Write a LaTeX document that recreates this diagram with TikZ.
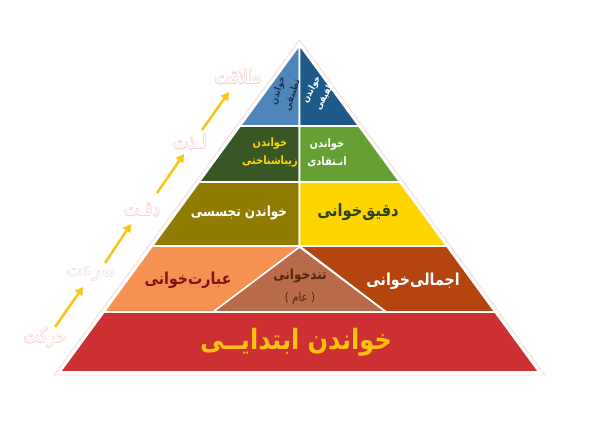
\documentclass[tikz,border=0pt]{standalone}
\usepackage{fontspec}
\usepackage[copies]{contour}
\usetikzlibrary{arrows.meta}
\TeXXeTstate=1
\newfontfamily\arabicfont[Script=Arabic,FakeStretch=0.86]{DejaVu Sans}
\definecolor{bluel}{HTML}{4F86BA}
\definecolor{blued}{HTML}{1D5A8A}
\definecolor{greend}{HTML}{385724}
\definecolor{greenl}{HTML}{65A035}
\definecolor{oliveb}{HTML}{917B03}
\definecolor{yel}{HTML}{FFD500}
\definecolor{orl}{HTML}{F79152}
\definecolor{brm}{HTML}{B96A4B}
\definecolor{rust}{HTML}{B5450F}
\definecolor{redb}{HTML}{CC3033}
\definecolor{gold}{HTML}{F8C61A}
\definecolor{pinkl}{HTML}{F5D2D2}
\definecolor{navyt}{HTML}{1B3556}
\definecolor{dgreent}{HTML}{2C4419}
\definecolor{dredt}{HTML}{7E1414}
\definecolor{dbrownt}{HTML}{55260F}
\definecolor{goldt}{HTML}{FFC20E}
\contourlength{0.35pt}
\begin{document}
\begin{tikzpicture}[x=1pt,y=-1pt,
  piece/.style={draw=white,line width=1.6pt,line join=round},
  lbl/.style={font=\arabicfont\bfseries,align=center,inner sep=0pt},
  side/.style={font=\arabicfont\fontsize{19}{19}\selectfont,text=white,inner sep=0pt},
  arr/.style={draw=gold,line width=2.6pt,-{Triangle[length=8pt,width=9pt]}}]
\useasboundingbox (0,0) rectangle (591,422);
% outer halo
\path[draw=pinkl,line width=0.7pt,fill=white] (299.5,40) -- (544.9,375) -- (54.1,375) -- cycle;
% level 1 (top)
\path[piece,fill=bluel] (299.5,45) -- (299.5,126) -- (240.2,126) -- cycle;
\path[piece,fill=blued] (299.5,45) -- (358.8,126) -- (299.5,126) -- cycle;
% level 2
\path[piece,fill=greend] (240.2,126) -- (299.5,126) -- (299.5,182) -- (199.2,182) -- cycle;
\path[piece,fill=greenl] (299.5,126) -- (358.8,126) -- (399.8,182) -- (299.5,182) -- cycle;
% level 3
\path[piece,fill=oliveb] (199.2,182) -- (299.5,182) -- (299.5,246) -- (152.3,246) -- cycle;
\path[piece,fill=yel] (299.5,182) -- (399.8,182) -- (446.7,246) -- (299.5,246) -- cycle;
% level 4
\path[piece,fill=orl] (152.3,246) -- (446.7,246) -- (495.0,312) -- (104.0,312) -- cycle;
\path[piece,fill=rust] (299.5,246) -- (446.7,246) -- (495.0,312) -- (386,312) -- cycle;
\path[piece,fill=brm] (299.5,247) -- (386,312) -- (213,312) -- cycle;
% base
\path[piece,fill=redb] (104.0,312) -- (495.0,312) -- (539.0,372) -- (60.0,372) -- cycle;

% texts
\node[lbl,text=navyt,rotate=72,font=\arabicfont\bfseries\fontsize{9.5}{15}\selectfont] (t1) at (285,93) {\beginR خواندن\endR\\\beginR تطبیقی\endR};
\node[lbl,text=white,rotate=62,font=\arabicfont\bfseries\fontsize{9.5}{15}\selectfont] (t2) at (318,93) {\beginR خواندن\endR\\\beginR تلفیقی\endR};
\node[lbl,text=yel,font=\arabicfont\bfseries\fontsize{11.5}{18}\selectfont] (t3) at (270,153) {\beginR خواندن\endR\\\beginR زیباشناختی\endR};
\node[lbl,text=white,font=\arabicfont\bfseries\fontsize{11.5}{18}\selectfont] (t4) at (327,153) {\beginR خواندن\endR\\\beginR انـتقادی\endR};
\node[lbl,text=white,font=\arabicfont\bfseries\fontsize{14}{16}\selectfont] (t5) at (239,213) {\beginR خواندن تجسسی\endR};
\node[lbl,text=dgreent,font=\arabicfont\bfseries\fontsize{17}{19}\selectfont] (t6) at (358,212) {\beginR دقیق‌خوانی\endR};
\node[lbl,text=dredt,font=\arabicfont\bfseries\fontsize{16.5}{18}\selectfont] (t7) at (188,280) {\beginR عبارت‌خوانی\endR};
\node[lbl,text=dbrownt,font=\arabicfont\bfseries\fontsize{14}{16}\selectfont] (t8) at (300,276) {\beginR تندخوانی\endR};
\node[lbl,text=dbrownt,font=\arabicfont\fontsize{12}{14}\selectfont] (t9) at (300,298) {\beginR ( عام )\endR};
\node[lbl,text=white,font=\arabicfont\bfseries\fontsize{16.5}{18}\selectfont] (t10) at (413,281) {\beginR اجمالی‌خوانی\endR};
\node[lbl,text=goldt,font=\arabicfont\bfseries\fontsize{28}{30}\selectfont] (t11) at (296,342) {\beginR خواندن ابتدایــی\endR};

% side labels
\node[side] (s1) at (45,338) {\contour{pinkl}{\beginR حرکت\endR}};
\node[side] (s2) at (91,274) {\contour{pinkl}{\beginR سرعت\endR}};
\node[side] (s3) at (142,210) {\contour{pinkl}{\beginR دقـت\endR}};
\node[side] (s4) at (190,142) {\contour{pinkl}{\beginR لـذت\endR}};
\node[side] (s5) at (238,77) {\contour{pinkl}{\beginR طلاقت\endR}};

% arrows
\coordinate (a1s) at (55,327); \coordinate (a1e) at (83,287);
\coordinate (a2s) at (105,263); \coordinate (a2e) at (131,224);
\coordinate (a3s) at (157,193); \coordinate (a3e) at (184,154);
\coordinate (a4s) at (202,130); \coordinate (a4e) at (229,92);
\draw[arr] (a1s) -- (a1e);
\draw[arr] (a2s) -- (a2e);
\draw[arr] (a3s) -- (a3e);
\draw[arr] (a4s) -- (a4e);
\end{tikzpicture}
\end{document}
